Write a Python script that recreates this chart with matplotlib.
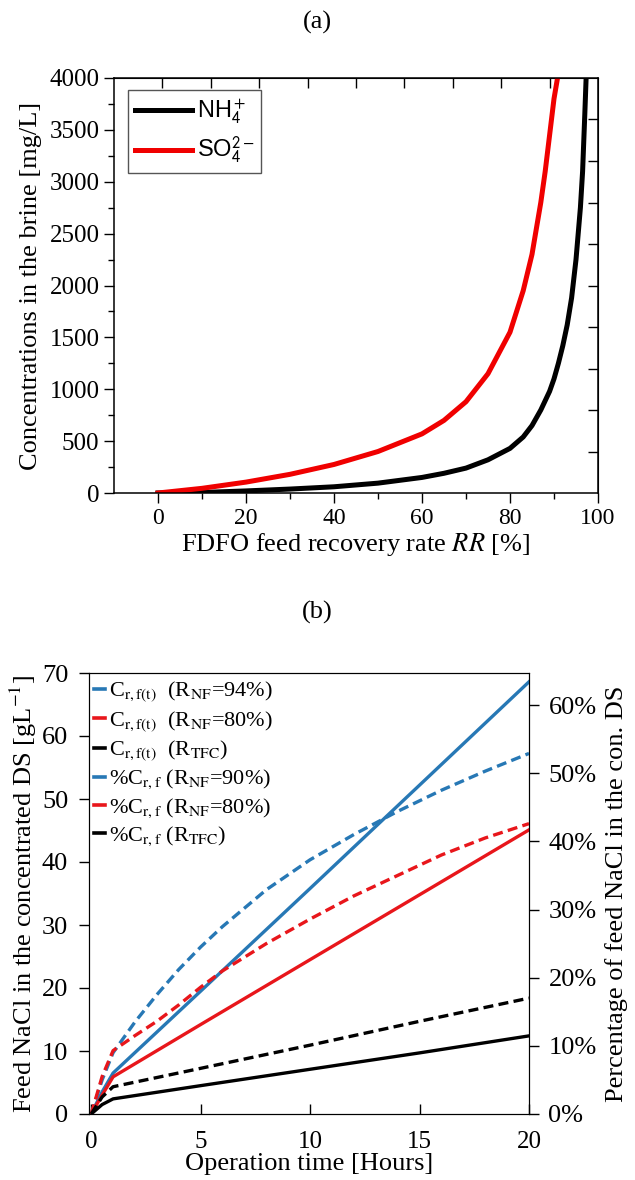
import matplotlib
matplotlib.use("Agg")
import matplotlib.pyplot as plt
from matplotlib.font_manager import FontProperties
from matplotlib.lines import Line2D
import numpy as np

plt.rcParams['font.family'] = ['Liberation Serif', 'DejaVu Serif']
plt.rcParams['mathtext.fontset'] = 'stix'

# ---- (a) ion concentrations in the brine vs. FDFO feed recovery rate ----
rr_nh4 = [0, 10, 20, 30, 40, 50, 60, 65, 70, 75, 80, 83, 85, 87, 89, 90,
          91, 92, 93, 94, 95, 96, 96.5, 97, 97.3]
c_nh4 = [0, 5, 20, 38, 60, 95, 150, 190, 240, 320, 430, 540, 650, 800, 980,
         1100, 1250, 1420, 1620, 1880, 2250, 2750, 3100, 3650, 4000]
rr_so4 = [0, 10, 20, 30, 40, 50, 60, 65, 70, 75, 80, 83, 85, 87, 88, 89, 90, 90.8]
c_so4 = [0, 45, 105, 180, 275, 400, 570, 700, 880, 1150, 1550, 1950, 2300,
         2800, 3100, 3450, 3800, 4000]
ion_labels = ['NH$_4^+$', 'SO$_4^{2-}$']

# ---- (b) feed NaCl accumulated in the concentrated draw solution ----
t_solid = [0, 0.5, 1, 5, 10, 15, 20]
c_nf94 = [0, 3.5, 6.5, 19.5, 35.8, 52.2, 68.6]
c_nf80 = [0, 3.0, 5.9, 14.2, 24.5, 34.8, 45.1]
c_tfc = [0, 1.5, 2.4, 4.5, 7.1, 9.7, 12.4]

t_pct = [0, 0.5, 1, 2, 3, 4, 5, 6, 8, 10, 12, 14, 16, 18, 20]
pct_nf90 = [0, 5, 9, 13.5, 17.5, 21.2, 24.5, 27.5, 32.9, 37.3, 41, 44.4, 47.5, 50.3, 52.9]
pct_nf80 = [0, 5.5, 9.3, 11.5, 13.6, 16, 18.6, 21, 25, 28.6, 32, 35, 38, 40.5, 42.6]
t_pct_tfc = [0, 0.5, 1, 5, 10, 15, 20]
pct_tfc = [0, 2.5, 4, 6.7, 10.1, 13.6, 17.0]

series_labels = [
    r'C$_{\rm r,f(t)}$  (R$_{\rm NF}$=94%)',
    r'C$_{\rm r,f(t)}$  (R$_{\rm NF}$=80%)',
    r'C$_{\rm r,f(t)}$  (R$_{\rm TFC}$)',
    r'%C$_{\rm r,f}$ (R$_{\rm NF}$=90%)',
    r'%C$_{\rm r,f}$ (R$_{\rm NF}$=80%)',
    r'%C$_{\rm r,f}$ (R$_{\rm TFC}$)',
]

BLUE = '#2778b5'
RED = '#e8161b'
RED_A = '#f00000'

W, H = 635, 1180
fig = plt.figure(figsize=(W / 100, H / 100), dpi=100)


def px_axes(left, top, right, bottom):
    return fig.add_axes([left / W, 1 - bottom / H, (right - left) / W, (bottom - top) / H])


# ================= panel (a) =================
axA = px_axes(114, 78, 598, 493)
axA.plot(rr_nh4, c_nh4, color='black', lw=3.6, label=ion_labels[0])
axA.plot(rr_so4, c_so4, color=RED_A, lw=3.6, label=ion_labels[1])
axA.set_xlim(-10, 100)
axA.set_ylim(0, 4000)
axA.set_xticks(range(0, 101, 20))
axA.set_xticks(range(10, 100, 20), minor=True)
axA.set_yticks(range(0, 4001, 500))
axA.set_yticks(range(250, 4000, 500), minor=True)
axA.tick_params(which='major', direction='out', length=7, width=1)
axA.tick_params(which='minor', direction='out', length=4, width=1)
axA.tick_params(axis='x', labelsize=17)
axA.tick_params(axis='y', labelsize=18)
for s in axA.spines.values():
    s.set_linewidth(1.1)

secx = axA.secondary_xaxis('top')
secx.set_xticks(np.linspace(-10, 100, 11)[1:-1])
secx.set_xticklabels([])
secx.tick_params(direction='in', length=7, width=1)
secy = axA.secondary_yaxis('right')
secy.set_yticks(np.linspace(0, 4000, 11)[1:-1])
secy.set_yticklabels([])
secy.tick_params(direction='in', length=7, width=1)

axA.set_xlabel(r'FDFO feed recovery rate $\mathit{RR}$ [%]', fontsize=19, labelpad=2)
axA.set_ylabel('Concentrations in the brine [mg/L]', fontsize=19, labelpad=5)

legA = axA.legend(loc='upper left', bbox_to_anchor=(0.029, 0.971), borderaxespad=0,
                  prop=FontProperties(family='Liberation Sans', size=17,
                                      math_fontfamily='stixsans'),
                  handlelength=2.4, handletextpad=0.2, labelspacing=0.4,
                  borderpad=0.3, fancybox=False, framealpha=1)
legA.get_frame().set_edgecolor('#555555')
legA.get_frame().set_linewidth(1.0)

fig.text(0.5, 1 - 22 / H, '(a)', ha='center', va='center', fontsize=19)

# ================= panel (b) =================
axB = px_axes(89, 673, 529, 1114)
axB.plot(t_solid, c_nf94, color=BLUE, lw=2.4)
axB.plot(t_solid, c_nf80, color=RED, lw=2.4)
axB.plot(t_solid, c_tfc, color='black', lw=2.4)
axB.set_xlim(-0.1, 20)
axB.set_ylim(0, 70)
axB.set_xticks(range(0, 21, 5))
axB.set_yticks(range(0, 71, 10))
axB.tick_params(axis='y', direction='out', length=7, width=1, labelsize=19, pad=8)
axB.tick_params(axis='x', direction='in', length=7, width=1, labelsize=18, pad=12)

axB2 = axB.twinx()
dash = (0, (3.0, 1.6))
axB2.plot(t_pct, pct_nf90, color=BLUE, lw=2.4, ls=dash)
axB2.plot(t_pct, pct_nf80, color=RED, lw=2.4, ls=dash)
axB2.plot(t_pct_tfc, pct_tfc, color='black', lw=2.4, ls=dash)
axB2.set_ylim(0, 64.7)
axB2.set_yticks(range(0, 61, 10))
axB2.set_yticklabels([f'{v}%' for v in range(0, 61, 10)])
axB2.tick_params(axis='y', direction='out', length=7, width=1, labelsize=19, pad=7)

axB.set_xlabel('Operation time [Hours]', fontsize=19, labelpad=0)
axB.set_ylabel(r'Feed NaCl in the concentrated DS [gL$^{-1}$]', fontsize=19, labelpad=2)
axB2.set_ylabel('Percentage of feed NaCl in the con. DS', fontsize=19, labelpad=6)

handles = [Line2D([], [], color=c, lw=2.6) for c in (BLUE, RED, 'black', BLUE, RED, 'black')]
axB2.legend(handles, series_labels, loc='upper left', bbox_to_anchor=(0.012, 0.985),
            borderaxespad=0, borderpad=0, frameon=False, fontsize=16,
            handlelength=0.5, handletextpad=0.15, labelspacing=0.22)

fig.text(0.5, 1 - 612 / H, '(b)', ha='center', va='center', fontsize=19)

fig.savefig('out.png', dpi=100)
